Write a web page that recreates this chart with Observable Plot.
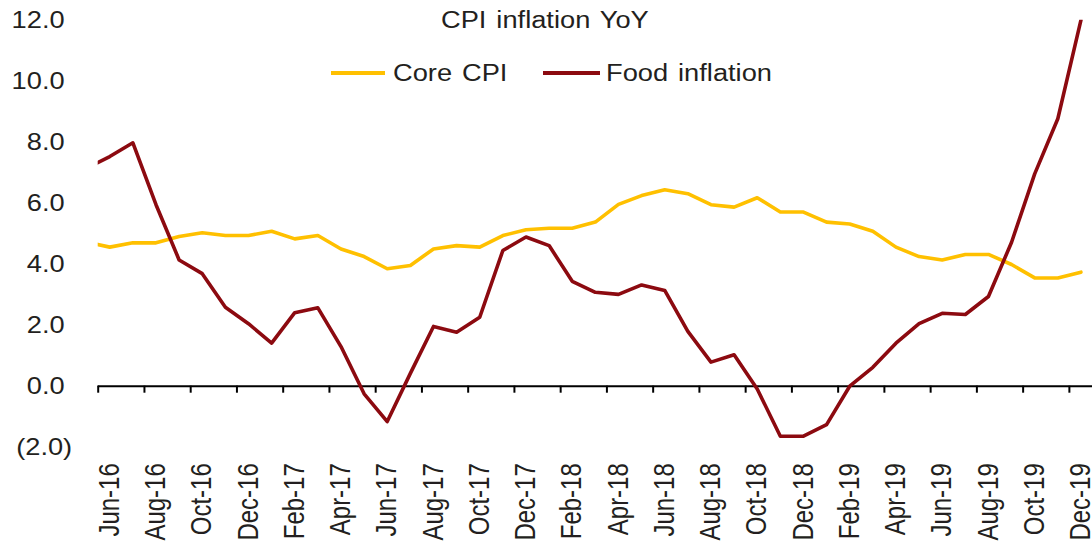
<!DOCTYPE html>
<html>
<head>
<meta charset="utf-8">
<script src="https://cdn.jsdelivr.net/npm/d3@7"></script>
<script src="https://cdn.jsdelivr.net/npm/@observablehq/plot@0.6"></script>
<style>
  html, body { margin: 0; padding: 0; background: #fff; }
  #wrap { position: relative; width: 1092px; height: 545px; overflow: hidden; font-family: "Liberation Sans", Arial, sans-serif; color: #231f20; }
  #wrap svg { display: block; }
  .ov { position: absolute; font-size: 23.3px; line-height: 23px; white-space: nowrap; color: #231f20; transform: scaleX(1.17); transform-origin: 0 0; }
  .sw { position: absolute; height: 4px; }
</style>
</head>
<body>
<div id="wrap"></div>
<script>
// Monthly series (May-16 is only partly visible at the left edge)
const months = ["May-16","Jun-16","Jul-16","Aug-16","Sep-16","Oct-16","Nov-16","Dec-16",
  "Jan-17","Feb-17","Mar-17","Apr-17","May-17","Jun-17","Jul-17","Aug-17","Sep-17","Oct-17","Nov-17","Dec-17",
  "Jan-18","Feb-18","Mar-18","Apr-18","May-18","Jun-18","Jul-18","Aug-18","Sep-18","Oct-18","Nov-18","Dec-18",
  "Jan-19","Feb-19","Mar-19","Apr-19","May-19","Jun-19","Jul-19","Aug-19","Sep-19","Oct-19","Nov-19","Dec-19"];
const coreCPI = [4.72, 4.56, 4.70, 4.70, 4.91, 5.03, 4.94, 4.94,
  5.08, 4.83, 4.94, 4.50, 4.25, 3.85, 3.96, 4.50, 4.61, 4.56, 4.94, 5.13,
  5.18, 5.18, 5.38, 5.96, 6.25, 6.44, 6.31, 5.95, 5.87, 6.18, 5.71, 5.71,
  5.38, 5.32, 5.08, 4.56, 4.25, 4.14, 4.32, 4.32, 3.99, 3.55, 3.55, 3.74];
const foodInflation = [7.15, 7.53, 7.98, 5.95, 4.14, 3.69, 2.59, 2.05,
  1.41, 2.41, 2.57, 1.30, -0.25, -1.16, 0.42, 1.96, 1.77, 2.26, 4.45, 4.89,
  4.61, 3.44, 3.08, 3.01, 3.32, 3.14, 1.80, 0.79, 1.03, -0.09, -1.64, -1.64,
  -1.26, 0.00, 0.62, 1.41, 2.05, 2.39, 2.35, 2.94, 4.72, 6.96, 8.77, 12.0];
const xTickLabels = ["Jun-16","Aug-16","Oct-16","Dec-16","Feb-17","Apr-17","Jun-17","Aug-17","Oct-17","Dec-17",
  "Feb-18","Apr-18","Jun-18","Aug-18","Oct-18","Dec-18","Feb-19","Apr-19","Jun-19","Aug-19","Oct-19","Dec-19"];
const yTicks = [-2, 0, 2, 4, 6, 8, 10, 12];
const seriesNames = ["Core CPI", "Food inflation"];
const seriesColors = ["#FFC000", "#8C0A10"];
const title = "CPI inflation YoY";

// month index: Jun-16 = 0
const data = months.map((m, k) => ({ i: k - 1, month: m, core: coreCPI[k], food: foodInflation[k] }));
const labelIdx = xTickLabels.map((_, k) => k * 2);
const boundaries = xTickLabels.map((_, k) => k * 2 - 0.5);
const fmtY = v => v < 0 ? `(${Math.abs(v).toFixed(1)})` : `${v.toFixed(1)}\u00A0`;

const chart = Plot.plot({
  width: 1092,
  height: 545,
  marginLeft: 97.7,
  marginRight: 0,
  marginTop: 19.7,
  marginBottom: 98.3,
  x: { domain: [-0.5, 42.5], axis: null, label: null },
  y: { domain: [-2, 12], axis: null, label: null },
  style: { fontFamily: "'Liberation Sans', Arial, sans-serif", fontSize: "23px", color: "#231f20", background: "white" },
  marks: [
    Plot.axisY({ ticks: yTicks, tickSize: 0, tickPadding: 26, tickFormat: fmtY, fontSize: 23.3, label: null }),
    Plot.axisX({ ticks: labelIdx, tickSize: 0, tickRotate: -90, tickPadding: 16, tickFormat: d => xTickLabels[d / 2], fontSize: 24, label: null }),
    Plot.ruleY([0], { stroke: "#000", strokeWidth: 2 }),
    Plot.ruleX(boundaries, { y1: 0, y2: 0, insetBottom: -7, stroke: "#000", strokeWidth: 2 }),
    Plot.line(data, { x: "i", y: "core", stroke: seriesColors[0], strokeWidth: 3.6, clip: true }),
    Plot.line(data, { x: "i", y: "food", stroke: seriesColors[1], strokeWidth: 3.6, clip: true })
  ]
});

// the reference's lettering is horizontally stretched: widen the glyphs on screen
d3.select(chart).selectAll('g[aria-label="y-axis tick label"] text')
  .attr("transform", function () { return (this.getAttribute("transform") || "") + " scale(1.17,1)"; });
d3.select(chart).selectAll('g[aria-label="x-axis tick label"] text')
  .attr("transform", function () { return (this.getAttribute("transform") || "") + " scale(1,1.2)"; });

const wrap = document.getElementById("wrap");
wrap.appendChild(chart);

function addDiv(cls, text, css) {
  const d = document.createElement("div");
  d.className = cls;
  if (text) d.textContent = text;
  Object.assign(d.style, css);
  wrap.appendChild(d);
}
addDiv("ov", title, { left: "441px", top: "9px", wordSpacing: "2px" });
addDiv("sw", "", { left: "331px", width: "54px", top: "71.3px", background: seriesColors[0] });
addDiv("ov", seriesNames[0], { left: "393px", top: "62px", wordSpacing: "2px" });
addDiv("sw", "", { left: "543px", width: "57px", top: "71.3px", background: seriesColors[1] });
addDiv("ov", seriesNames[1], { left: "606px", top: "62px", wordSpacing: "2px" });
</script>
</body>
</html>
